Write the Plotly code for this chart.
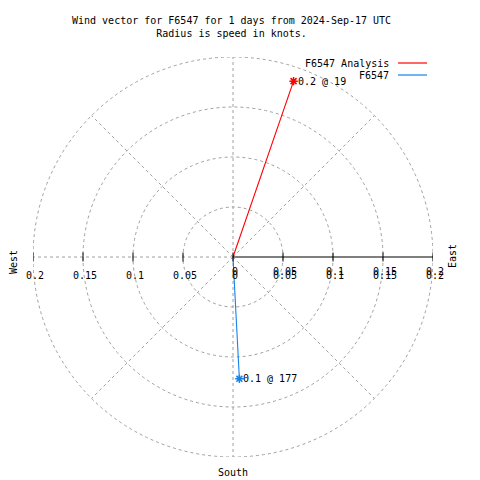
import math
import plotly.graph_objects as go

# ---- data ----
series_names = ["F6547 Analysis", "F6547"]
series_colors = ["#ff0000", "#1482e8"]
speed_knots = [0.186, 0.122]
direction_deg = [19, 177]
ring_values = [0.05, 0.1, 0.15, 0.2]
tick_values = [-0.2, -0.15, -0.1, -0.05, 0, 0.05, 0.1, 0.15, 0.2]
tick_labels = ["0.2", "0.15", "0.1", "0.05", "0", "0.05", "0.1", "0.15", "0.2"]
spoke_angles = [0, 45, 135, 180, 225, 270, 315]
title_lines = ["Wind vector for F6547 for 1 days from 2024-Sep-17 UTC",
               "Radius is speed in knots."]

FONT = "DejaVu Sans Mono"
GRID = "#a0a0a0"
RMAX = 0.2

# plot area in screen pixels (page body has an 8px offset)
OFF = 8
L, T, W, H = 33, 57, 400, 400


def px(x):
    return (x - L) / W


def py(y):
    return (T + H - y) / H


fig = go.Figure()
shapes = []
annotations = []

# rings
for r in ring_values:
    shapes.append(dict(type="circle", xref="x", yref="y", x0=-r, y0=-r, x1=r, y1=r,
                       line=dict(color=GRID, width=1, dash="dot"), layer="below"))
# spokes
for a in spoke_angles:
    t = math.radians(a)
    shapes.append(dict(type="line", xref="x", yref="y", x0=0, y0=0,
                       x1=RMAX * math.sin(t), y1=RMAX * math.cos(t),
                       line=dict(color=GRID, width=1, dash="dot"), layer="below"))
# east axis (solid)
shapes.append(dict(type="line", xref="x", yref="y", x0=0, y0=0, x1=RMAX, y1=0,
                   line=dict(color="black", width=1.2)))
# ticks and labels
for v, lab in zip(tick_values, tick_labels):
    shapes.append(dict(type="line", xref="x", yref="y", x0=v, y0=-0.0045, x1=v, y1=0.0045,
                       line=dict(color="black", width=1)))
    annotations.append(dict(x=v, y=0, xref="x", yref="y", text=lab, showarrow=False,
                            xanchor="center", yanchor="middle",
                            xshift=2, yshift=-18, font=dict(family=FONT, size=10, color="black")))
    if v >= 0:
        annotations.append(dict(x=v, y=0, xref="x", yref="y", text=lab, showarrow=False,
                                xanchor="center", yanchor="middle",
                                xshift=2, yshift=-14, font=dict(family=FONT, size=10, color="black")))

# vectors
for name, col, s, d in zip(series_names, series_colors, speed_knots, direction_deg):
    t = math.radians(d)
    xe, ye = s * math.sin(t), s * math.cos(t)
    fig.add_trace(go.Scatter(x=[0, xe], y=[0, ye], mode="lines", name=name,
                             line=dict(color=col, width=1.1), showlegend=False))
    fig.add_trace(go.Scatter(x=[xe], y=[ye], mode="markers", showlegend=False,
                             marker=dict(symbol="asterisk-open", size=7, color=col,
                                         line=dict(color=col, width=1.5))))
    annotations.append(dict(x=xe, y=ye, xref="x", yref="y", text=f"{s:.1f} @ {d}",
                            showarrow=False, xanchor="left", yanchor="middle", xshift=2,
                            font=dict(family=FONT, size=10, color="black")))

# legend (gnuplot style)
for i, (name, col) in enumerate(zip(series_names, series_colors)):
    yy = 63 + 12 * i
    annotations.append(dict(x=px(391), y=py(yy), xref="paper", yref="paper", text=name,
                            showarrow=False, xanchor="right", yanchor="middle",
                            font=dict(family=FONT, size=10, color="black")))
    shapes.append(dict(type="line", xref="paper", yref="paper", x0=px(398), x1=px(427),
                       y0=py(yy), y1=py(yy), line=dict(color=col, width=1.2)))

# compass labels
annotations.append(dict(x=px(14), y=py(262), xref="paper", yref="paper", text="West",
                        showarrow=False, textangle=-90, xanchor="center", yanchor="middle",
                        font=dict(family=FONT, size=10, color="black")))
annotations.append(dict(x=px(452), y=py(256), xref="paper", yref="paper", text="East",
                        showarrow=False, textangle=-90, xanchor="center", yanchor="middle",
                        font=dict(family=FONT, size=10, color="black")))
annotations.append(dict(x=px(233), y=py(472), xref="paper", yref="paper", text="South",
                        showarrow=False, xanchor="center", yanchor="middle",
                        font=dict(family=FONT, size=10, color="black")))

# title
annotations.append(dict(x=px(231), y=py(26.5), xref="paper", yref="paper",
                        text="<br>".join(title_lines), showarrow=False,
                        xanchor="center", yanchor="middle",
                        font=dict(family=FONT, size=10, color="black")))

ml, mt = L - OFF, T - OFF
fig.update_layout(
    width=480, height=480,
    margin=dict(l=ml, r=480 - ml - W, t=mt, b=480 - mt - H, pad=0),
    paper_bgcolor="white", plot_bgcolor="white",
    xaxis=dict(range=[-RMAX, RMAX], visible=False, fixedrange=True),
    yaxis=dict(range=[-RMAX, RMAX], visible=False, fixedrange=True),
    shapes=shapes, annotations=annotations, showlegend=False,
)

fig.write_html("out.html")
